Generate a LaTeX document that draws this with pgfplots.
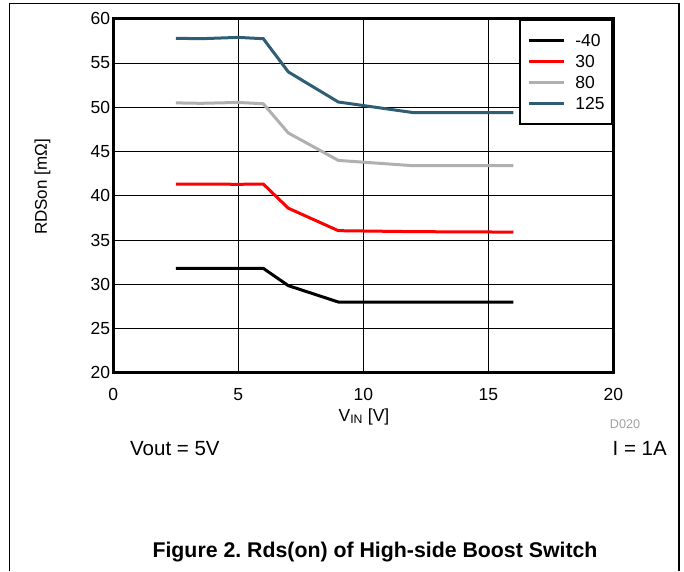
\documentclass[border=0pt]{standalone}
\usepackage{fontspec}
\setmainfont{Liberation Sans}
\usepackage{pgfplots}
\pgfplotsset{compat=1.18}

\definecolor{c40}{RGB}{0,0,0}
\definecolor{c30}{RGB}{255,0,0}
\definecolor{c80}{RGB}{176,176,176}
\definecolor{c125}{RGB}{47,93,116}
\definecolor{dgray}{RGB}{160,160,160}

\begin{document}
\frenchspacing
\begin{tikzpicture}
% page = 684 x 571 px, 1px = 1pt, y runs downwards as negative
\path[use as bounding box] (0pt,0pt) rectangle (684pt,-571pt);
\draw[line width=1.3pt] (9.5pt,-571pt) -- (9.5pt,-3.5pt) -- (679pt,-3.5pt) -- (679pt,-571pt);

\begin{axis}[
    at={(113.3pt,-372.8pt)}, anchor=south west,
    scale only axis,
    width=500pt, height=354pt,
    xmin=0, xmax=20,
    ymin=20, ymax=60,
    xtick={0,5,10,15,20},
    ytick={20,25,30,35,40,45,50,55,60},
    grid=major,
    major grid style={black, line width=0.8pt},
    axis line style={line width=3pt},
    major tick length=0pt,
    /pgf/number format/assume math mode=true,
    ticklabel style={font=\fontsize{17.5}{20}\selectfont, inner sep=0pt},
    xticklabel style={anchor=base, yshift=-27.8pt},
    yticklabel style={anchor=east, xshift=-3pt},
    legend cell align=left,
    legend image code/.code={\draw[#1] (0pt,0pt) -- (35pt,0pt);},
    legend style={
        at={(1,1)}, anchor=north east,
        draw=black, line width=2.5pt,
        inner xsep=7.5pt, inner ysep=14.5pt,
        row sep=8.6pt, column sep=10pt,
        font=\fontsize{17.5}{20}\selectfont,
        nodes={inner sep=0pt, text height=12.3pt, text depth=0pt},
    },
]

\addplot[color=c40, line width=3pt] coordinates {
    (2.5,31.8)(3.5,31.8)(5,31.8)(6,31.8)(7,29.85)(9,28)(12,28)(16,28)
};
\addplot[color=c30, line width=3pt] coordinates {
    (2.5,41.33)(3.5,41.33)(5,41.3)(6,41.33)(7,38.6)(9,36.06)(12,35.95)(16,35.9)
};
\addplot[color=c80, line width=3pt] coordinates {
    (2.5,50.5)(3.5,50.45)(5,50.55)(6,50.4)(7,47.1)(9,44)(12,43.4)(16,43.4)
};
\addplot[color=c125, line width=3pt] coordinates {
    (2.5,57.8)(3.5,57.75)(5,57.9)(6,57.75)(7,54)(9,50.6)(12,49.4)(16,49.4)
};

\legend{-40, 30, 80, 125}
\end{axis}

% labels and notes
\node[rotate=90, font=\fontsize{17}{20}\selectfont] at (42.5pt,-187pt) {RDSon [mΩ]};
\node[anchor=base, font=\fontsize{17.5}{20}\selectfont, inner sep=0pt] at (364pt,-421pt) {V\textsubscript{IN} [V]};
\node[anchor=base, font=\fontsize{12.6}{15}\selectfont, text=dgray, inner sep=0pt] at (625pt,-428pt) {D020};
\node[anchor=base west, font=\fontsize{20.5}{24}\selectfont, inner sep=0pt] at (130pt,-455pt) {Vout = 5V};
\node[anchor=base east, font=\fontsize{20.5}{24}\selectfont, inner sep=0pt] at (667pt,-455pt) {I = 1A};
\node[anchor=base, font=\bfseries\fontsize{21.3}{25}\selectfont, inner sep=0pt] at (375pt,-557pt) {Figure 2. Rds(on) of High-side Boost Switch};
\end{tikzpicture}
\end{document}
